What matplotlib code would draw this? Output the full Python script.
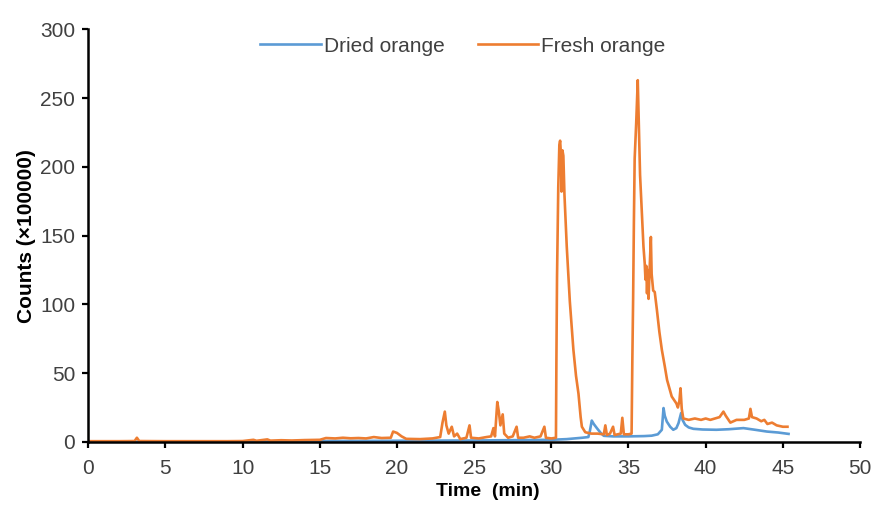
import matplotlib
matplotlib.use("Agg")
import matplotlib.pyplot as plt

plt.rcParams['font.family'] = ['Liberation Sans', 'DejaVu Sans']

# Fresh orange chromatogram (time in min, counts x100000)
fresh_time = [0, 1, 2, 3.0, 3.15, 3.3, 5, 7, 9, 10, 10.7, 10.9, 11.6, 11.8, 12.5, 13.2, 14, 15,
              15.4, 16, 16.5, 17, 17.5, 18, 18.5, 19, 19.6, 19.75, 20.0, 20.3, 20.6, 21.5, 22.3,
              22.8, 22.95, 23.1, 23.2, 23.35, 23.55, 23.7, 23.9, 24.1, 24.5, 24.7, 24.8, 25.3,
              25.8, 26.1, 26.25, 26.35, 26.5, 26.6, 26.7, 26.85, 26.95, 27.2, 27.5, 27.75, 27.85,
              28.2, 28.6, 28.9, 29.3, 29.55, 29.65, 30.0, 30.3, 30.33, 30.37, 30.45, 30.52, 30.57,
              30.62, 30.66, 30.72, 30.78, 30.85, 30.95, 31.0, 31.2, 31.43, 31.6, 31.76, 31.9,
              31.98, 32.2, 32.6, 33.0, 33.4, 33.5, 33.6, 33.8, 34.0, 34.1, 34.5, 34.6, 34.7, 35.0,
              35.2, 35.25, 35.3, 35.35, 35.4, 35.5, 35.56, 35.6, 35.65, 35.75, 35.85, 35.97, 36.05,
              36.1, 36.15, 36.2, 36.25, 36.3, 36.35, 36.45, 36.5, 36.6, 36.7, 36.84, 37.0, 37.16,
              37.35, 37.5, 37.8, 38.1, 38.2, 38.3, 38.37, 38.45, 38.55, 38.9, 39.3, 39.7, 40.0,
              40.3, 40.6, 40.9, 41.15, 41.3, 41.6, 42.0, 42.5, 42.8, 42.9, 43.0, 43.3, 43.6, 43.8,
              44.0, 44.3, 44.6, 45.0, 45.3]
fresh_counts = [0.5, 0.5, 0.5, 0.6, 3, 0.6, 0.5, 0.5, 0.5, 0.6, 1.5, 0.8, 1.8, 0.9, 1.2, 1.0, 1.3, 1.5,
                2.8, 2.5, 3.0, 2.6, 2.8, 2.5, 3.5, 2.8, 3, 7.5, 6.5, 4, 2.2, 2.0, 2.5,
                3.5, 14, 22, 12, 6, 11, 4, 6, 2, 3, 12, 3, 2.5,
                3.5, 4, 10, 4, 29, 22, 12, 20, 6, 3, 4, 11, 3,
                3, 4, 3, 4, 11, 3, 2.5, 3, 60, 120, 185, 216, 219,
                210, 182, 212, 208, 180, 155, 142, 102, 67, 48, 35, 18,
                11, 7, 6, 6, 5.5, 12, 5, 6, 11, 5, 6, 17.5, 5.5, 5.5,
                6, 60, 104, 160, 206, 232, 250, 263, 240, 194, 170, 142, 130,
                118, 128, 108, 125, 104, 120, 149, 122, 110, 109, 96, 80, 67,
                55, 45, 33, 28, 25, 30, 39, 24, 17, 16, 17, 16, 17,
                16, 17, 18, 22, 19, 14, 16, 16, 17, 24, 18, 17, 15, 16,
                13, 14, 12, 11, 11]

# Dried orange chromatogram
dried_time = [0, 5, 10, 13, 13.5, 15, 18, 20, 22, 25, 27, 30, 31, 32, 32.4, 32.5, 32.62, 32.75,
              32.95, 33.2, 33.4, 34, 35, 36, 36.5, 36.9, 37.16, 37.27, 37.35, 37.48, 37.7, 37.9,
              38.1, 38.24, 38.41, 38.5, 38.67, 38.9, 39.2, 39.8, 40.7, 41.5, 42.45, 43.2, 43.97,
              44.7, 45.37]
dried_counts = [0.1, 0.1, 0.2, 0.3, 0.6, 0.6, 0.7, 0.8, 0.9, 1.0, 1.2, 1.5, 2.0, 3.0, 3.5, 8, 15.5, 13,
                10, 6.5, 4.4, 4.0, 4.0, 4.2, 4.5, 5.5, 8.8, 24.6, 19, 14.8, 11, 8.8,
                10, 13.6, 21, 16, 12.4, 10.5, 9.5, 9.0, 8.8, 9.2, 10, 8.8, 7.5,
                6.8, 5.8]

x_ticks = [0, 5, 10, 15, 20, 25, 30, 35, 40, 45, 50]
y_ticks = [0, 50, 100, 150, 200, 250, 300]

fig = plt.figure(figsize=(8.74, 5.05), dpi=100)
ax = fig.add_axes([0.101, 0.125, 0.883, 0.817])

ax.plot(dried_time, dried_counts, color='#5B9BD5', linewidth=1.9, label='Dried orange')
ax.plot(fresh_time, fresh_counts, color='#ED7D31', linewidth=1.9, label='Fresh orange')

ax.set_xlim(0, 50)
ax.set_ylim(0, 300)
ax.set_xticks(x_ticks)
ax.set_yticks(y_ticks)

for side in ['top', 'right']:
    ax.spines[side].set_visible(False)
for side in ['left', 'bottom']:
    ax.spines[side].set_linewidth(1.8)
    ax.spines[side].set_color('black')

ax.tick_params(direction='out', length=4.5, width=1.6, colors='black',
               labelcolor='#404040', labelsize=15)
ax.tick_params(axis='x', pad=8)
ax.tick_params(axis='y', pad=5)

ax.set_xlabel('Time  (min)', fontsize=14, fontweight='bold')
ax.xaxis.set_label_coords(0.518, -0.1)
ax.set_ylabel('Counts (\u00d7100000)', fontsize=15, fontweight='bold', labelpad=3)

ax.legend(loc='center', bbox_to_anchor=(463 / 874, 1 - 46 / 505),
          bbox_transform=fig.transFigure, ncol=2, frameon=False,
          fontsize=15, handlelength=2.9, handletextpad=0.15,
          columnspacing=1.6, labelcolor='#404040')

fig.savefig('out.png', dpi=100, facecolor='white')
